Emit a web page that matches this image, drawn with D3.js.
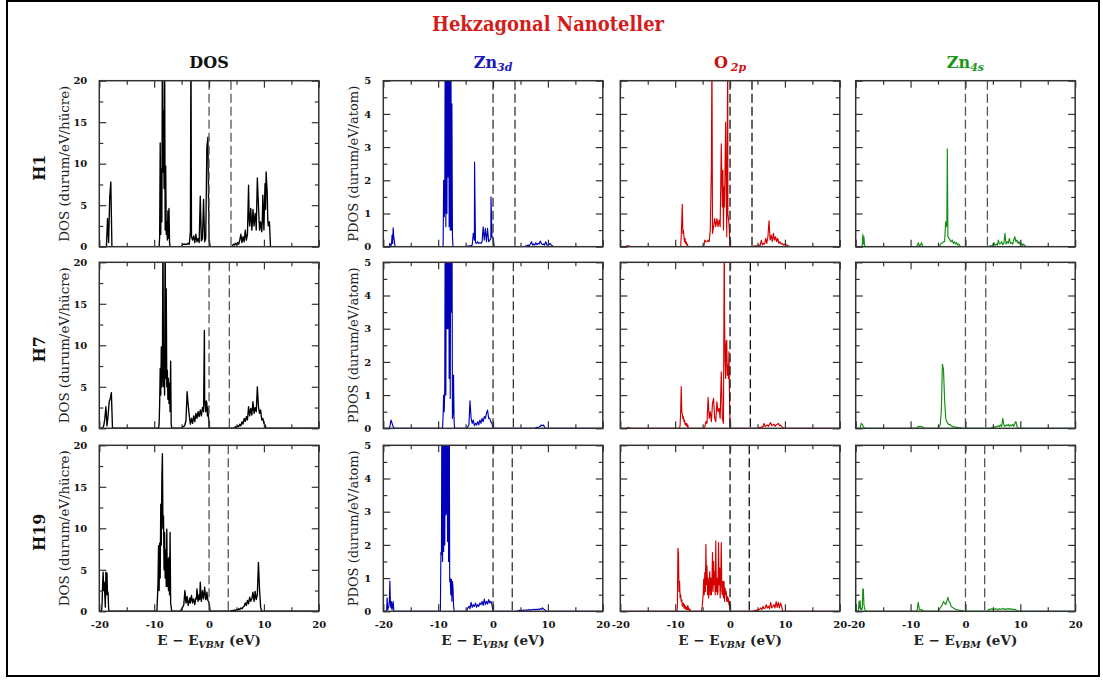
<!DOCTYPE html>
<html>
<head>
<meta charset="utf-8">
<script src="https://cdn.jsdelivr.net/npm/d3@7"></script>
<style>
body { margin: 0; background: #fff; }
svg text { font-family: "DejaVu Serif", serif; }
</style>
</head>
<body>
<svg id="chart" width="1103" height="682"></svg>
<script>
// each band: [first energy (eV), energy step (eV), density values]
// peaks: [energy, density] single sharp lines sitting inside a band

// ---- H1 ----
var dosH1 = [
    [-18.7, 0.2, [0, 3.4, 0.5, 6.0, 7.8, 0]],
    [-9.1, 0.1, [0, 1.2, 12.5, 1.5, 9.4, 3, 25, 9, 16.4, 7, 25, 2, 9.7, 1.5, 3, 0.8, 4.3, 1, 4.6, 0.5, 0]],
    [-5.0, 0.2, [0, 0.3, 0.3, 0.3, 0.3, 0.3, 0.4, 0.3, 1.8, 1.2, 0.8, 1.3, 0.5, 1.5, 0.6, 1.0, 0.5, 6.1, 0.7, 1.0, 5.7, 0.6, 1.0, 12.0, 13.2, 0.8, 0]],
    [4.2, 0.2, [0, 0.3, 0.2, 0.4, 0.2, 0.5, 0.3, 0.8, 1.5, 0.5, 1.2, 0.6, 2.0, 0.8, 1.5, 7.4, 2.5, 4.6, 2.0, 4.5, 2.5, 4.0, 2.0, 8.3, 5.0, 2.0, 3.0, 1.8, 6.2, 2.0, 7.6, 9.0, 6.5, 2.5, 3.0, 0]]
];
var dosH1Peaks = [[-3.3, 25], [-0.3, 12.6], [-0.1, 6], [7.3, 3.5], [7.9, 3.0], [8.5, 3.6], [9.1, 3.5], [9.7, 3.0], [10.3, 4.5], [10.7, 3.2]];

var zn3dH1 = [
    [-18.9, 0.1, [0, 0.1, 0.05, 0.03, 0.1, 0.35, 0.1, 0.57, 0.3, 0.2, 0.05, 0]],
    [-9.2, 0.1, [0, 0, 2.0, 0.9, 1.1, 8, 0.6, 8, 1, 8, 2.1, 8, 0.6, 8, 0.5, 8, 0.5, 4.3, 0.3, 0]],
    [-5.0, 0.2, [0, 0.02, 0.02, 0.02, 0.03, 0.03, 0.05, 0.4, 0.2, 0.12, 0.1, 0.15, 0.1, 0.12, 0.1, 0.15, 0.6, 0.2, 0.55, 0.15, 0.55, 0.15, 0.2, 0.25, 0.3, 0.25, 0]],
    [5.8, 0.2, [0, 0.03, 0.02, 0.05, 0.03, 0.08, 0.15, 0.05, 0.08, 0.05, 0.12, 0.06, 0.1, 0.08, 0.17, 0.1, 0.06, 0.08, 0.05, 0.15, 0.06, 0.04, 0.06, 0.1, 0.05, 0.03, 0]]
];
var zn3dH1Peaks = [[-3.37, 2.55], [-0.37, 1.5]];

var o2pH1 = [
    [-19.0, 0.2, [0, 0.03, 0.02, 0.03, 0]],
    [-9.0, 0.1, [0, 0.3, 0.8, 1.28, 0.4, 0.5, 0.3, 0.15, 0.25, 0.1, 0.15, 0.05, 0.08, 0.03, 0]],
    [-4.8, 0.2, [0, 0.2, 0.15, 0.15, 0.2, 0.15, 0.5, 2.4, 0.4, 0.6, 0.85, 0.6, 0.85, 0.6, 0.8, 0.6, 3.1, 1.2, 0.5, 1.2, 3.75, 0.3, 1.0, 0.7, 0]],
    [4.1, 0.2, [0, 0.02, 0.02, 0.03, 0.02, 0.03, 0.05, 0.04, 0.2, 0.05, 0.1, 0.08, 0.25, 0.1, 0.3, 0.78, 0.2, 0.35, 0.15, 0.4, 0.2, 0.3, 0.15, 0.25, 0.1, 0.15, 0.08, 0.1, 0.05, 0.08, 0.04, 0.06, 0.03, 0.02, 0]]
];
var o2pH1Peaks = [[-3.3, 6], [-0.42, 6], [-1.3, 2.3], [-1.1, 1.8]];

var zn4sH1 = [
    [-18.9, 0.1, [0, 0.05, 0.37, 0.08, 0.3, 0.05, 0.02, 0]],
    [-9.0, 0.2, [0, 0.02, 0.12, 0.02, 0.05, 0.12, 0.02, 0]],
    [-4.8, 0.2, [0, 0.05, 0.1, 0.12, 0.15, 0.15, 0.75, 0.6, 0.3, 0.25, 0.2, 0.15, 0.2, 0.1, 0.15, 0.08, 0.12, 0.05, 0.08, 0.02, 0]],
    [4.2, 0.2, [0, 0.02, 0.03, 0.02, 0.05, 0.12, 0.04, 0.08, 0.05, 0.2, 0.08, 0.1, 0.15, 0.06, 0.1, 0.4, 0.08, 0.15, 0.1, 0.25, 0.1, 0.12, 0.08, 0.2, 0.3, 0.15, 0.2, 0.1, 0.15, 0.06, 0.1, 0.04, 0.08, 0.03, 0.02, 0]]
];
var zn4sH1Peaks = [[-3.3, 2.95]];

// ---- H7 ----
var dosH7 = [
    [-19.4, 0.2, [0, 0.3, 1.1, 2.6, 0.3, 1.5, 3.2, 3.6, 4.3, 0]],
    [-9.2, 0.1, [0, 0.5, 3, 7.2, 4, 9.8, 5, 7.2, 25, 5, 9, 4, 25, 6, 16.8, 5, 7, 3.5, 6, 3, 5.4, 2, 8.1, 0.5, 0]],
    [-5.0, 0.2, [0, 0.2, 0.2, 0.4, 1.0, 4.4, 2.8, 1.5, 0.5, 1.2, 0.6, 1.5, 0.8, 1.8, 1.2, 2.0, 1.4, 2.2, 1.5, 2.5, 2.0, 3.5, 2.0, 3.0, 2.5, 0]],
    [4.6, 0.2, [0, 0.2, 0.1, 0.3, 0.2, 0.5, 0.3, 0.8, 0.5, 1.2, 0.8, 1.4, 1.0, 2.6, 1.5, 2.4, 1.6, 3.2, 1.8, 2.5, 2.0, 5.0, 2.6, 1.8, 2.2, 1.0, 1.2, 0.6, 0.4, 0]]
];
var dosH7Peaks = [[-0.85, 11.8], [-0.5, 3.3], [-0.3, 1.5]];

var zn3dH7 = [
    [-19.0, 0.2, [0, 0.05, 0.25, 0.15, 0.05, 0]],
    [-9.2, 0.1, [0, 0.4, 1.0, 0.5, 1.2, 8, 1, 8, 3, 8, 3, 8, 1.5, 8, 0.9, 8, 3.5, 8, 0.3, 0.5, 1.6, 0.2, 0]],
    [-4.8, 0.2, [0, 0.05, 0.1, 0.83, 0.3, 0.15, 0.25, 0.08, 0.15, 0.1, 0.2, 0.1, 0.25, 0.15, 0.3, 0.2, 0.35, 0.3, 0.45, 0.55, 0.3, 0.3, 0.2, 0.15, 0]],
    [7.6, 0.2, [0, 0.02, 0.03, 0.02, 0.04, 0.06, 0.1, 0.08, 0.1, 0.03, 0]]
];
var zn3dH7Peaks = [];

var o2pH7 = [
    [-18.8, 0.2, [0, 0.03, 0.02, 0]],
    [-9.2, 0.1, [0, 0.1, 0.5, 1.26, 0.5, 0.45, 0.3, 0.35, 0.2, 0.25, 0.12, 0.15, 0.08, 0.15, 0.05, 0.1, 0]],
    [-4.8, 0.2, [0, 0.05, 0.2, 0.15, 0.93, 0.3, 0.5, 0.2, 0.75, 0.9, 0.3, 0.2, 0.8, 0.5, 0.6, 0.3, 1.7, 0.3, 0.15, 3.3, 1.5, 2.65, 1.9, 2.3, 0]],
    [5.2, 0.2, [0, 0.03, 0.02, 0.05, 0.04, 0.15, 0.05, 0.08, 0.1, 0.06, 0.12, 0.17, 0.08, 0.1, 0.12, 0.06, 0.1, 0.12, 0.15, 0.08, 0.1, 0.05, 0.03, 0]]
];
var o2pH7Peaks = [[-1.05, 6], [-0.9, 2.0], [-0.7, 2.6], [-0.5, 1.6], [-0.3, 1.5], [-0.1, 0.9]];

var zn4sH7 = [
    [-19.2, 0.2, [0, 0.15, 0.12, 0.05, 0]],
    [-8.8, 0.2, [0, 0.06, 0.05, 0.06, 0.05, 0.04, 0]],
    [-5.0, 0.2, [0, 0.05, 0.1, 0.5, 1.93, 1.77, 0.85, 0.3, 0.2, 0.15, 0.1, 0.12, 0.08, 0.05, 0.06, 0.03, 0.04, 0.02, 0.03, 0.02, 0.01, 0.02, 0]],
    [4.6, 0.2, [0, 0.02, 0.03, 0.02, 0.05, 0.04, 0.06, 0.08, 0.05, 0.1, 0.06, 0.3, 0.1, 0.06, 0.1, 0.08, 0.12, 0.06, 0.1, 0.08, 0.12, 0.06, 0.15, 0.2, 0.05, 0]]
];
var zn4sH7Peaks = [];

// ---- H19 ----
var dosH19 = [
    [-19.6, 0.1, [0, 0.7, 3.2, 4.7, 2.5, 3.5, 2.0, 0.5, 4.7, 2.0, 4.6, 2.0, 2.3, 0.3, 0]],
    [-9.5, 0.1, [0, 1.7, 3.5, 7.9, 2.5, 8.2, 4, 12.9, 8, 16, 19, 10, 11.5, 5, 9.5, 4, 7.4, 3, 9.9, 3, 6.3, 2.5, 6.5, 2, 9.5, 1, 0.5, 0]],
    [-5.2, 0.2, [0, 0.3, 0.5, 0.8, 2.5, 1.0, 1.8, 0.7, 1.3, 1.0, 1.9, 1.0, 1.5, 0.8, 1.6, 2.7, 1.2, 2.0, 3.5, 1.2, 2.5, 1.5, 2.9, 1.4, 2.3, 1.3, 1.0, 0]],
    [3.8, 0.2, [0, 0.05, 0.1, 0.05, 0.15, 0.1, 0.2, 0.15, 0.3, 0.2, 0.4, 0.3, 0.5, 0.6, 1.0, 0.7, 1.3, 0.9, 1.7, 1.2, 1.5, 2.3, 1.2, 2.4, 1.4, 2.0, 5.9, 2.6, 0.5, 0]]
];
var dosH19Peaks = [[-4.1, 1.2], [-3.5, 1.6], [-2.9, 1.4], [-2.3, 1.5], [-1.7, 1.4], [-1.1, 1.8], [-0.5, 1.5]];

var zn3dH19 = [
    [-19.4, 0.1, [0, 0.4, 0.05, 0.1, 0.15, 0.3, 0.91, 0.2, 0.1, 0.29, 0.05, 0.15, 0.29, 0.05, 0]],
    [-9.6, 0.1, [0, 1.78, 1.7, 8, 1.5, 8, 1.8, 8, 2, 8, 2.9, 3, 8, 2.1, 8, 1.5, 8, 0.9, 0.97, 0.5, 0.97, 0.3, 0.9, 0.72, 0.2, 0]],
    [-4.8, 0.2, [0, 0.1, 0.15, 0.08, 0.27, 0.12, 0.2, 0.15, 0.25, 0.12, 0.2, 0.15, 0.25, 0.2, 0.3, 0.18, 0.37, 0.2, 0.3, 0.22, 0.35, 0.25, 0.3, 0.2, 0]],
    [4.4, 0.2, [0, 0.02, 0.03, 0.02, 0.03, 0.02, 0.04, 0.03, 0.04, 0.03, 0.05, 0.04, 0.05, 0.03, 0.05, 0.06, 0.04, 0.06, 0.05, 0.07, 0.05, 0.08, 0.06, 0.1, 0.07, 0.05, 0.02, 0]]
];
var zn3dH19Peaks = [];

var o2pH19 = [
    [-9.7, 0.1, [0, 0.1, 1.9, 1.77, 0.6, 0.9, 0.4, 0.5, 0.3, 0.35, 0.15, 0.2, 0.25, 0.1, 0.2, 0.08, 0.15, 0.05, 0.12, 0.05, 0.18, 0.05, 0.1, 0.03, 0.05, 0]],
    [-5.3, 0.1, [0, 0.02, 0.1, 0.3, 0.5, 0.97, 0.5, 1.17, 0.6, 2.02, 0.8, 1.37, 0.5, 1.0, 0.4, 0.7, 1.2, 0.5, 1.0, 0.5,
                 0.8, 1.77, 0.6, 1.5, 0.8, 1.2, 0.5, 2.12, 0.6, 1.0, 0.5, 0.6, 2.07, 0.8, 1.3, 0.4, 1.0, 2.07, 0.6, 0.5,
                 0.9, 0.4, 0.9, 0.3, 0.7, 0.5, 0.6, 0.3, 0.45, 0.3, 0.4, 0.2, 0.3, 0.05, 0]],
    [4.0, 0.2, [0, 0.01, 0.02, 0.03, 0.02, 0.05, 0.04, 0.06, 0.1, 0.05, 0.15, 0.08, 0.1, 0.2, 0.1, 0.15, 0.08, 0.27, 0.1, 0.15, 0.2, 0.1, 0.29, 0.12, 0.27, 0.1, 0.25, 0.15, 0]]
];
var o2pH19Peaks = [];

var zn4sH19 = [
    [-19.5, 0.1, [0, 0.3, 0.1, 0.32, 0.05, 0.1, 0.05, 0.1, 0.67, 0.67, 0.2, 0.1, 0.05, 0]],
    [-9.0, 0.2, [0, 0.04, 0.27, 0.05, 0.04, 0.05, 0.03, 0]],
    [-5.0, 0.2, [0, 0.05, 0.1, 0.15, 0.2, 0.3, 0.25, 0.2, 0.3, 0.42, 0.3, 0.25, 0.15, 0.12, 0.1, 0.08, 0.06, 0.05, 0.04, 0.03, 0.03, 0.02, 0.02, 0.01, 0]],
    [4.0, 0.2, [0, 0.05, 0.07, 0.05, 0.08, 0.06, 0.05, 0.08, 0.06, 0.07, 0.05, 0.08, 0.06, 0.07, 0.09, 0.06, 0.08, 0.05, 0.07, 0.09, 0.06, 0.08, 0.06, 0.07, 0.05, 0.06, 0.04, 0.03, 0]]
];
var zn4sH19Peaks = [];

var structures = ["H1", "H7", "H19"];
var cbmEnergy = [4.0, 3.7, 3.5];   // second dashed line, the VBM is at 0
var energyTicks = [-20, -10, 0, 10, 20];
var energyMinorTicks = [-15, -5, 5, 15];
var dosTicks = [0, 5, 10, 15, 20];
var dosMinorTicks = [2.5, 7.5, 12.5, 17.5];
var pdosTicks = [0, 1, 2, 3, 4, 5];
var pdosMinorTicks = [0.5, 1.5, 2.5, 3.5, 4.5];

var spectra = [
    [dosH1, zn3dH1, o2pH1, zn4sH1],
    [dosH7, zn3dH7, o2pH7, zn4sH7],
    [dosH19, zn3dH19, o2pH19, zn4sH19]
];
var peaks = [
    [dosH1Peaks, zn3dH1Peaks, o2pH1Peaks, zn4sH1Peaks],
    [dosH7Peaks, zn3dH7Peaks, o2pH7Peaks, zn4sH7Peaks],
    [dosH19Peaks, zn3dH19Peaks, o2pH19Peaks, zn4sH19Peaks]
];

// LAYOUT
var COL_LEFT = [99.3, 383.3, 620.3, 855.7];
var ROW_TOP = [80.7, 262.3, 445.3];
var W = 219.5, H = 166;
var MAJOR = 7, MINOR = 4;

var columns = [
    { name: "DOS", sub: "", ymax: 20, major: dosTicks, minor: dosMinorTicks, line: "#000", width: 1.35, dash: "#555", title: "#111", ylabel: "DOS (durum/eV/hücre)" },
    { name: "Zn", sub: "3d", ymax: 5, major: pdosTicks, minor: pdosMinorTicks, line: "#0000b8", width: 1.15, dash: "#333", title: "#1a1ab8", ylabel: "PDOS (durum/eV/atom)" },
    { name: "O", sub: "2p", ymax: 5, major: pdosTicks, minor: pdosMinorTicks, line: "#d40000", width: 1.15, dash: "#111", title: "#d01010", ylabel: "" },
    { name: "Zn", sub: "4s", ymax: 5, major: pdosTicks, minor: pdosMinorTicks, line: "#108f10", width: 1.15, dash: "#555", title: "#1c961c", ylabel: "" }
];

var svg = d3.select("#chart");

svg.append("rect")
    .attr("x", 7).attr("y", 1)
    .attr("width", 1092).attr("height", 675)
    .attr("fill", "none").attr("stroke", "#000").attr("stroke-width", 2);

svg.append("text")
    .attr("x", 548).attr("y", 31)
    .attr("text-anchor", "middle")
    .attr("font-size", 20.5).attr("font-weight", "bold")
    .attr("textLength", 232).attr("lengthAdjust", "spacingAndGlyphs")
    .attr("fill", "#d41c1c")
    .text("Hekzagonal Nanoteller");

function curve(bands, extra) {
    var pts = [[-20, 0], [20, 0]];
    bands.forEach(function (b) {
        b[2].forEach(function (v, i) { pts.push([b[0] + i * b[1], v]); });
    });
    extra.forEach(function (p) { pts.push(p); });
    pts.sort(function (a, b) { return a[0] - b[0]; });
    return pts;
}

function styleTicks(sel) {
    sel.select(".domain").remove();
    sel.selectAll(".tick line").attr("stroke", "#333").attr("stroke-width", 1.2);
    sel.selectAll(".tick text")
        .attr("font-family", "DejaVu Serif")
        .attr("font-size", 10)
        .attr("font-weight", "bold")
        .attr("fill", "#111");
}

var x = d3.scaleLinear().domain([-20, 20]).range([0, W]);

columns.forEach(function (col, c) {
    var cx = COL_LEFT[c] + W / 2;
    var t = svg.append("text")
        .attr("x", cx).attr("y", 68)
        .attr("text-anchor", "middle")
        .attr("font-size", 16).attr("font-weight", "bold")
        .attr("fill", col.title);
    t.append("tspan").text(col.name);
    t.append("tspan").attr("dy", 3).attr("dx", col.name == "O" ? 3 : 0)
        .attr("font-size", 11).attr("font-style", "italic").text(col.sub);
});

structures.forEach(function (s, r) {
    var top = ROW_TOP[r];
    svg.append("text")
        .attr("transform", "translate(45," + (top + H / 2 + 4) + ") rotate(-90)")
        .attr("text-anchor", "middle")
        .attr("font-size", 16).attr("font-weight", "bold")
        .attr("fill", "#111")
        .text(s);

    columns.forEach(function (col, c) {
        var left = COL_LEFT[c];
        var y = d3.scaleLinear().domain([0, col.ymax]).range([H, 0]);
        var g = svg.append("g").attr("transform", "translate(" + left + "," + top + ")");
        var clipId = "clip_" + r + "_" + c;

        g.append("clipPath").attr("id", clipId)
            .append("rect").attr("width", W).attr("height", H);

        var line = d3.line()
            .x(function (d) { return x(d[0]); })
            .y(function (d) { return y(d[1]); });

        g.append("path")
            .datum(curve(spectra[r][c], peaks[r][c]))
            .attr("clip-path", "url(#" + clipId + ")")
            .attr("d", line)
            .attr("fill", "none")
            .attr("stroke", col.line)
            .attr("stroke-width", col.width)
            .attr("stroke-linejoin", "round");

        g.selectAll(".gap")
            .data([0, cbmEnergy[r]])
            .enter()
            .append("line")
            .attr("class", "gap")
            .attr("x1", function (d) { return x(d); })
            .attr("x2", function (d) { return x(d); })
            .attr("y1", 0).attr("y2", H)
            .attr("stroke", col.dash)
            .attr("stroke-width", 1.3)
            .attr("stroke-dasharray", "9,4");

        var showX = r == structures.length - 1;
        var showY = c < 2;

        g.append("g").attr("transform", "translate(0," + H + ")")
            .call(d3.axisBottom(x).tickValues(energyTicks).tickSize(-MAJOR).tickPadding(10)
                .tickFormat(showX ? function (d) { return String(d); } : ""))
            .call(styleTicks);
        g.append("g").attr("transform", "translate(0," + H + ")")
            .call(d3.axisBottom(x).tickValues(energyMinorTicks).tickSize(-MINOR).tickFormat(""))
            .call(styleTicks);
        g.append("g")
            .call(d3.axisTop(x).tickValues(energyTicks).tickSize(-MAJOR).tickFormat(""))
            .call(styleTicks);
        g.append("g")
            .call(d3.axisTop(x).tickValues(energyMinorTicks).tickSize(-MINOR).tickFormat(""))
            .call(styleTicks);

        g.append("g")
            .call(d3.axisLeft(y).tickValues(col.major).tickSize(-MAJOR).tickPadding(12)
                .tickFormat(showY ? function (d) { return String(d); } : ""))
            .call(styleTicks);
        g.append("g")
            .call(d3.axisLeft(y).tickValues(col.minor).tickSize(-MINOR).tickFormat(""))
            .call(styleTicks);
        g.append("g").attr("transform", "translate(" + W + ",0)")
            .call(d3.axisRight(y).tickValues(col.major).tickSize(-MAJOR).tickFormat(""))
            .call(styleTicks);
        g.append("g").attr("transform", "translate(" + W + ",0)")
            .call(d3.axisRight(y).tickValues(col.minor).tickSize(-MINOR).tickFormat(""))
            .call(styleTicks);

        g.append("rect")
            .attr("width", W).attr("height", H)
            .attr("fill", "none")
            .attr("stroke", "#333")
            .attr("stroke-width", 1.5);

        if (col.ylabel) {
            var lx = c == 0 ? 69 : 358;
            svg.append("text")
                .attr("transform", "translate(" + lx + "," + (top + H / 2) + ") rotate(-90)")
                .attr("text-anchor", "middle")
                .attr("font-size", 13)
                .attr("textLength", 156).attr("lengthAdjust", "spacingAndGlyphs")
                .attr("fill", "#222")
                .text(col.ylabel);
        }

        if (showX) {
            var xt = svg.append("text")
                .attr("x", left + W / 2).attr("y", 645)
                .attr("text-anchor", "middle")
                .attr("font-size", 13.5).attr("font-weight", "bold")
                .attr("fill", "#222");
            xt.append("tspan").text("E \u2212 E");
            xt.append("tspan").attr("dy", 3).attr("font-size", 9.5).attr("font-style", "italic").text("VBM");
            xt.append("tspan").attr("dy", -3).text(" (eV)");
        }
    });
});
</script>
</body>
</html>
